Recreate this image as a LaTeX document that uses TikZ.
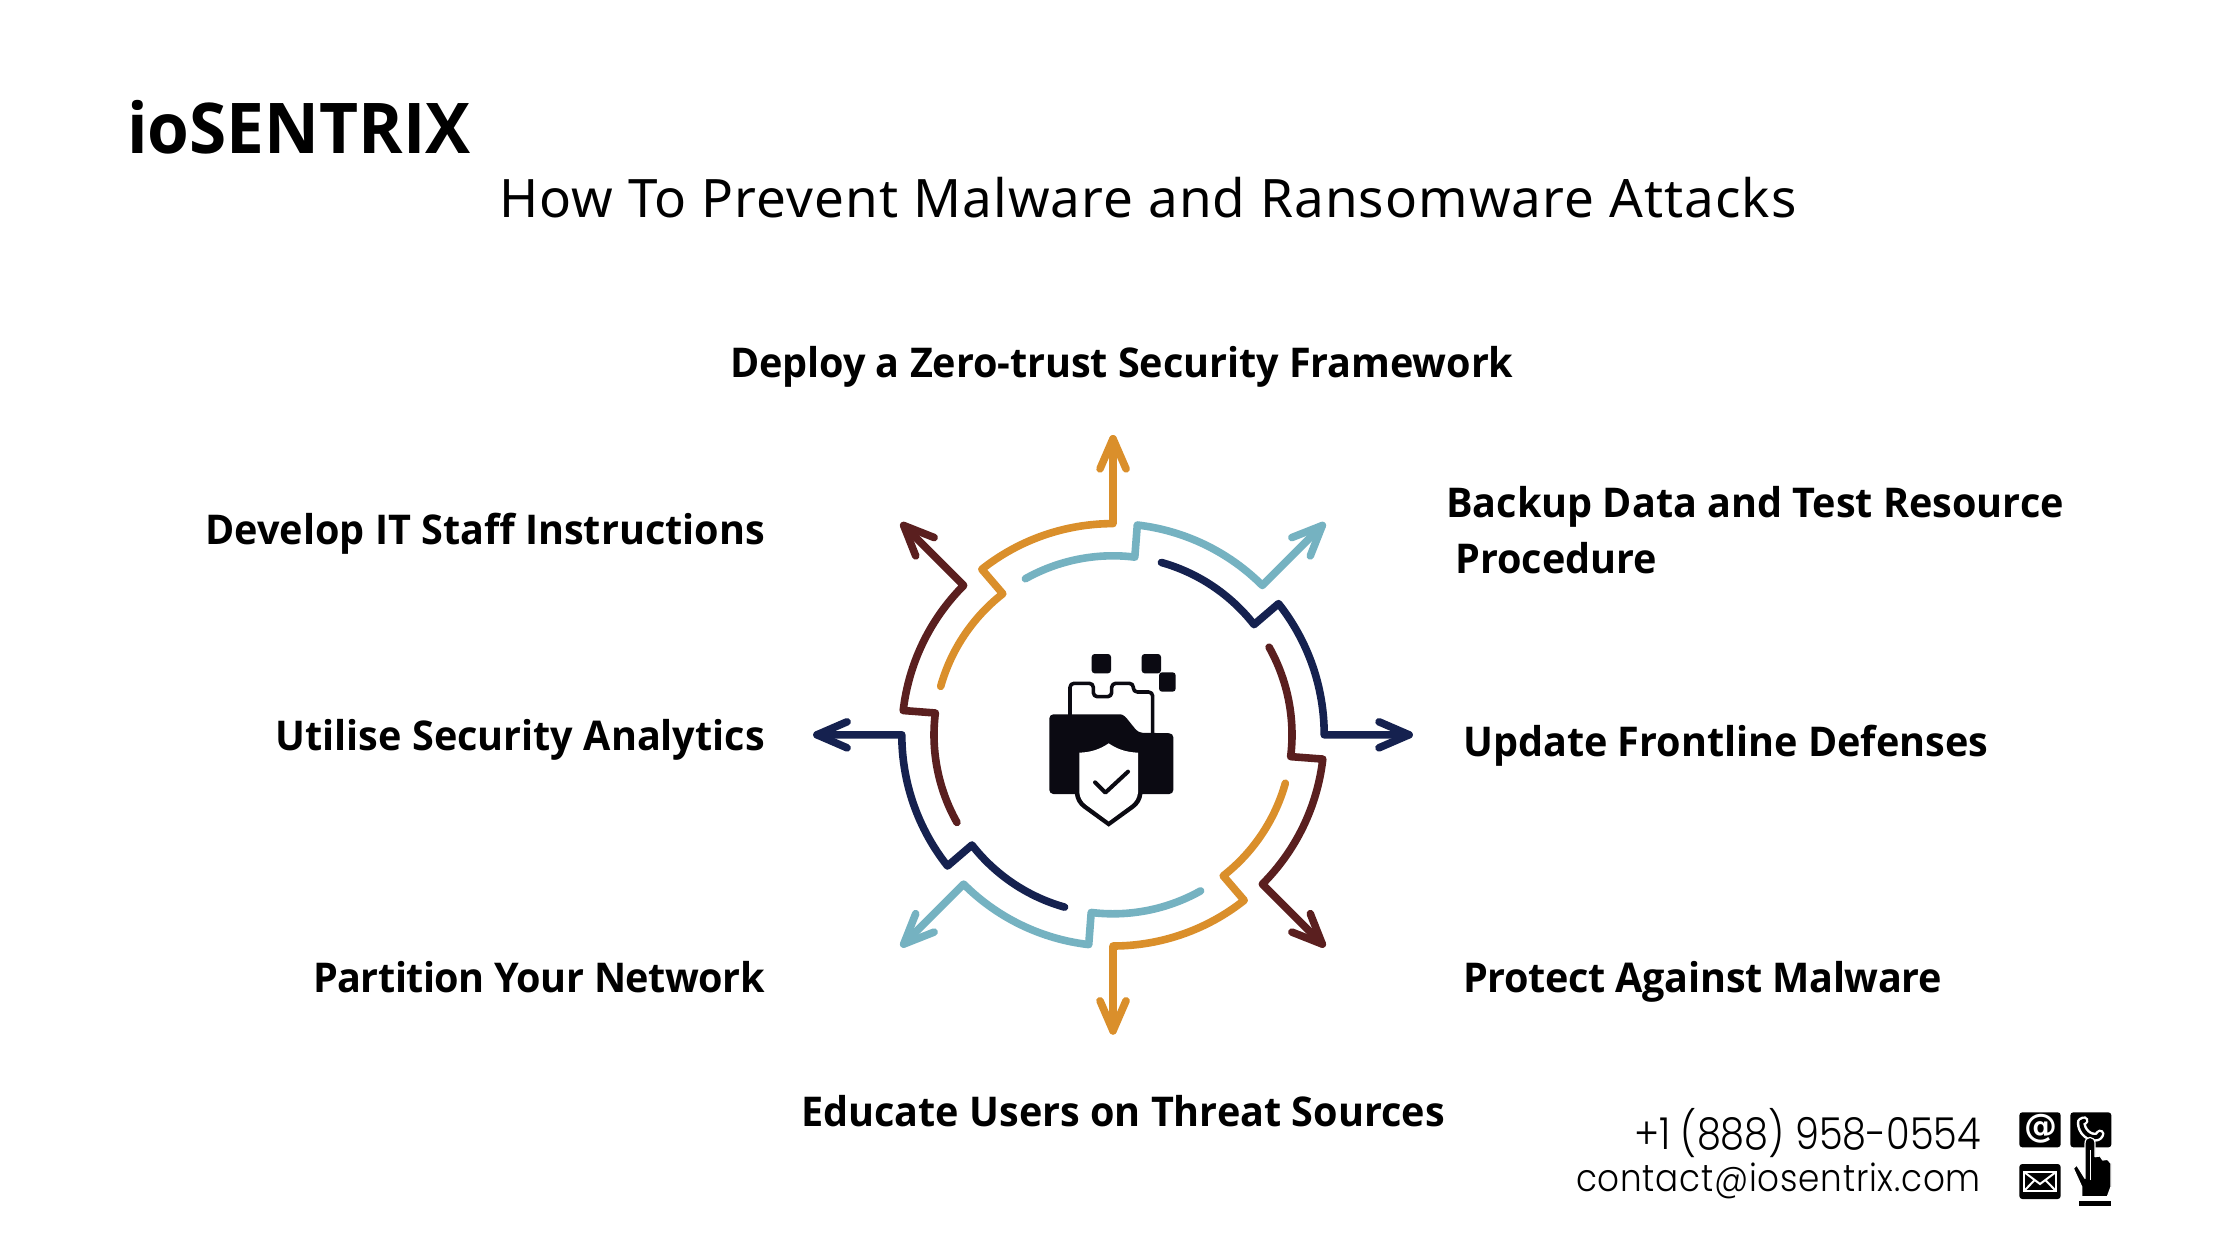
\documentclass[tikz,border=0pt]{standalone}
\usepackage{fontspec}
\setmainfont{Open Sans}[FakeStretch=0.965]
\newfontfamily\titlefont[LetterSpace=2]{Noto Sans}
\newfontfamily\phonefont[UprightFont={* Light},FakeStretch=0.87]{Poppins}
\newfontfamily\contactfont[UprightFont={* Light},LetterSpace=2,FakeStretch=0.9]{Poppins}
\newfontfamily\iconfont{DejaVu Sans}
\definecolor{cOrange}{HTML}{DA8F2B}
\definecolor{cCyan}{HTML}{75B2C1}
\definecolor{cNavy}{HTML}{15214F}
\definecolor{cMaroon}{HTML}{5A1F1F}
\definecolor{cInk}{HTML}{0B0A12}
\tikzset{
  lbl/.style={inner sep=0pt,anchor=base west,font=\fontsize{41}{41}\selectfont\bfseries,text=black},
  lblr/.style={lbl,anchor=base east},
  spoke/.style={line width=7.6pt,line cap=round,line join=round},
  ink/.style={fill=cInk,draw=none},
}
\begin{document}
\begin{tikzpicture}[x=1pt,y=-1pt]
\useasboundingbox (0,0) rectangle (2240,1260);
\fill[white] (0,0) rectangle (2240,1260);
\node[inner sep=0pt,anchor=base west,font=\fontsize{70}{70}\selectfont\bfseries] (brand) at (127,154) {ioSENTRIX};
\node[inner sep=0pt,anchor=base west,font=\fontsize{53}{53}\selectfont\titlefont] (title) at (499,218) {How To Prevent Malware and Ransomware Attacks};
\node[lbl] (l1) at (730,377) {\addfontfeature{LetterSpace=-0.2}Deploy a Zero-trust Security Framework};
\node[lblr] (l2) at (765,544) {Develop IT Staff Instructions};
\node[lbl] (l3) at (1446,517) {Backup Data and Test Resource};
\node[lbl] (l3b) at (1455,573) {Procedure};
\node[lblr] (l4) at (765,750) {Utilise Security Analytics};
\node[lbl] (l5) at (1463,756) {Update Frontline Defenses};
\node[lblr] (l6) at (765,992) {\addfontfeature{LetterSpace=-1.2}Partition Your Network};
\node[lbl] (l7) at (1463,992) {\addfontfeature{LetterSpace=-0.75}Protect Against Malware};
\node[lbl] (l8) at (801,1126) {Educate Users on Threat Sources};
\node[inner sep=0pt,anchor=base east,font=\fontsize{44}{44}\selectfont\phonefont] (phone) at (1981,1149) {+1 (888) 958-0554};
\node[inner sep=0pt,anchor=base east,font=\fontsize{38}{38}\selectfont\contactfont] (mail) at (1981,1191) {contact@iosentrix.com};
% wheel
\begin{scope}[shift={(1113,734.8)},x=1pt,y=1pt]
\foreach \i/\c in {0/cOrange,1/cCyan,2/cNavy,3/cMaroon,4/cOrange,5/cCyan,6/cNavy,7/cMaroon}{
  \begin{scope}[rotate=-45*\i]
    \draw[spoke,color=\c] (90:296)--(90:211.2) arc[start angle=90,end angle=128.4,radius=211.2]
      -- (128:179) arc[start angle=128,end angle=164.3,radius=179];
    \draw[spoke,color=\c] (-13,266)--(0,296)--(13,266);
  \end{scope}
}
\end{scope}
% central icon
\begin{scope}[shift={(1000,630)},scale=1/3]
\draw[cInk,line width=3.6pt,line join=round,rounded corners=4pt] (210,260)--(210,160)--(280,160)--(280,200)--(335,200)--(335,160)--(400,160)--(400,186)--(458,186)--(458,315);
\fill[ink,rounded corners=4pt] (148,253) -- (350,253) .. controls (368,253) and (378,262) .. (388,275) -- (415,308) -- (520,310) -- (520,492) -- (148,492) -- cycle;
\fill[ink] (224,488) .. controls (226,510) and (236,525) .. (250,535) -- (326,590) -- (402,535) .. controls (416,525) and (426,510) .. (428,488) -- cycle;
\fill[white] (326,340) .. controls (300,358) and (272,367) .. (238,368) -- (238,488) .. controls (240,505) and (248,516) .. (258,524) -- (326,574) -- (394,524) .. controls (404,516) and (412,505) .. (414,488) -- (414,368) .. controls (380,367) and (352,358) .. (326,340) -- cycle;
\draw[cInk,line width=4pt,line cap=round,line join=round] (285,457)--(316,488)--(384,425);
\fill[ink,rounded corners=3pt] (275,72) rectangle (333,130);
\fill[ink,rounded corners=3pt] (425,72) rectangle (483,130);
\fill[ink,rounded corners=3pt] (477,127) rectangle (527,185);
\end{scope}
% contact icons
\begin{scope}[shift={(2010,1100)},scale=1/3]
\fill[black,rounded corners=3pt] (28,37) rectangle (152,142);
\fill[black,rounded corners=3pt] (181,37) rectangle (304,142);
\fill[black,rounded corners=3pt] (28,192) rectangle (152,297);
\node[inner sep=0pt,text=white,font=\fontsize{33}{33}\selectfont\iconfont\bfseries] (at) at (92,87) {@};
% handset
\draw[white,line width=9pt,line cap=round,line join=round] (214,66) -- (222,62) (214,66) .. controls (212,92) and (238,118) .. (264,110) (264,110) -- (270,102);
\draw[black,line width=4pt,line cap=round,line join=round] (214,66) -- (222,62) (214,66) .. controls (212,92) and (238,118) .. (264,110) (264,110) -- (270,102);
% envelope
\draw[white,line width=2pt,line join=miter] (42,216) rectangle (138,273);
\draw[white,line width=2pt] (42,216)--(90,252)--(138,216) (42,273)--(74,240) (138,273)--(106,240);
% pointing hand
\fill[black,draw=white,line width=1.2pt,line join=round] (240,112) .. controls (231,112) and (225,120) .. (225,130) -- (225,235) -- (200,195) -- (190,205) -- (215,260) -- (215,290) -- (292,290) -- (303,260) -- (303,190) -- (292,178) -- (278,180) -- (270,168) -- (255,170) -- (255,130) .. controls (255,120) and (249,112) .. (240,112) -- cycle;
\draw[white,line width=1pt] (240,240)--(240,150);
\fill[black] (208,303) rectangle (304,318);
\end{scope}
\end{tikzpicture}
\end{document}
